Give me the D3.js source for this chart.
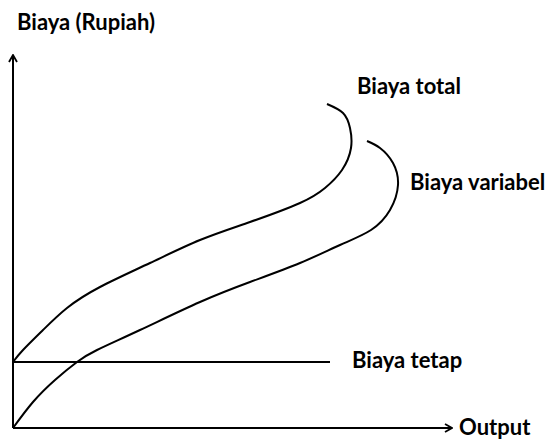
<!DOCTYPE html>
<html>
<head>
<meta charset="utf-8">
<script src="https://cdn.jsdelivr.net/npm/d3@7"></script>
<style>
  body { margin: 0; background: #fff; }
  .lbl { font-family: Lato, "Open Sans", sans-serif; font-weight: bold; font-size: 22px; fill: #000; }
</style>
</head>
<body>
<div id="chart"></div>
<script>
// output (x) and cost (y) points, arbitrary units
var totalX = [0, 10, 30, 54, 87, 137, 187, 237, 287, 312, 329, 338, 337, 330, 314];
var totalY = [66, 78, 98, 120, 141, 165, 188, 206, 225, 240, 258, 280, 300, 315, 324];
var varX = [0, 20, 42, 64, 84, 127, 187, 237, 287, 327, 358, 377, 385, 380, 367, 354];
var varY = [0, 26, 48, 66, 78, 98, 126, 146, 165, 183, 198, 218, 243, 265, 280, 287];
var fixedX = [0, 317];
var fixedY = [66, 66];

var labels = ["Biaya total", "Biaya variabel", "Biaya tetap"];
var axisLabels = ["Biaya (Rupiah)", "Output"];

var svgWidth = 552;
var svgHeight = 439;

var svg = d3.select("#chart")
  .append("svg")
  .attr("width", svgWidth)
  .attr("height", svgHeight);

// scales
var x = d3.scaleLinear().domain([0, 439]).range([13, 452]);
var y = d3.scaleLinear().domain([0, 373]).range([428, 55]);

// open arrow head
svg.append("defs").append("marker")
  .attr("id", "arrow")
  .attr("viewBox", "0 -5 10 10")
  .attr("refX", 9)
  .attr("refY", 0)
  .attr("markerWidth", 10)
  .attr("markerHeight", 10)
  .attr("markerUnits", "userSpaceOnUse")
  .attr("orient", "auto")
  .append("path")
  .attr("d", "M2,-4L9,0L2,4")
  .attr("fill", "none")
  .attr("stroke", "#000")
  .attr("stroke-width", 1.8);

// axes
svg.append("line")
  .attr("x1", x(0)).attr("y1", y(0))
  .attr("x2", x(0)).attr("y2", y(373))
  .attr("stroke", "#000").attr("stroke-width", 2)
  .attr("marker-end", "url(#arrow)");

svg.append("line")
  .attr("x1", x(0)).attr("y1", y(0))
  .attr("x2", x(439)).attr("y2", y(0))
  .attr("stroke", "#000").attr("stroke-width", 2)
  .attr("marker-end", "url(#arrow)");

var line = d3.line()
  .x(d => x(d[0]))
  .y(d => y(d[1]))
  .curve(d3.curveNatural);

var series = [
  d3.zip(totalX, totalY),
  d3.zip(varX, varY),
  d3.zip(fixedX, fixedY)
];

svg.selectAll(".curve")
  .data(series)
  .enter()
  .append("path")
  .attr("class", "curve")
  .attr("d", line)
  .attr("fill", "none")
  .attr("stroke", "#000")
  .attr("stroke-width", 2);

// curve labels (baseline positions)
var labelPos = [[344, 334], [397, 238], [339, 60]];
svg.selectAll(".clbl")
  .data(labels)
  .enter()
  .append("text")
  .attr("class", "lbl clbl")
  .attr("x", (d, i) => x(labelPos[i][0]))
  .attr("y", (d, i) => y(labelPos[i][1]))
  .text(d => d);

// axis labels
svg.append("text")
  .attr("class", "lbl")
  .attr("x", 17)
  .attr("y", 30)
  .text(axisLabels[0]);

svg.append("text")
  .attr("class", "lbl")
  .attr("x", x(446))
  .attr("y", y(-7))
  .text(axisLabels[1]);
</script>
</body>
</html>
